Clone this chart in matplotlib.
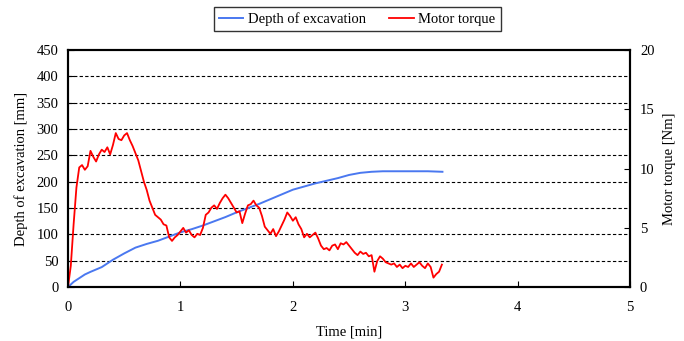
import numpy as np
import matplotlib
matplotlib.use('Agg')
import matplotlib.pyplot as plt

plt.rcParams['font.family'] = ['Liberation Serif', 'DejaVu Serif']

# depth of excavation [mm]
depth_t = [0, 0.05, 0.1, 0.15, 0.2, 0.3, 0.4, 0.5, 0.6, 0.7, 0.8, 0.9, 1.0, 1.1, 1.2, 1.3,
           1.4, 1.5, 1.6, 1.7, 1.8, 1.9, 2.0, 2.1, 2.2, 2.3, 2.4, 2.5, 2.6, 2.7, 2.8, 3.0,
           3.2, 3.33]
depth_mm = [0, 10, 17, 24, 29, 38, 52, 64, 75, 82, 88, 96, 104, 110, 117, 125,
            133, 142, 150, 158, 167, 176, 185, 191, 197, 202, 207, 213, 217, 219, 220, 220,
            220, 219]

# motor torque [Nm], sampled every 0.025 min
torque_nm = [0.0, 1.8, 5.3, 8.4, 10.1, 10.3, 9.9, 10.2, 11.5, 11.0, 10.6, 11.2, 11.6, 11.4,
             11.8, 11.2, 12.0, 13.0, 12.5, 12.4, 12.8, 13.0, 12.4, 11.9, 11.3, 10.7, 9.8, 8.9,
             8.2, 7.3, 6.7, 6.1, 5.9, 5.7, 5.3, 5.2, 4.2, 3.9, 4.2, 4.4, 4.7, 5.0, 4.6, 4.8,
             4.4, 4.2, 4.5, 4.4, 5.0, 6.1, 6.3, 6.7, 6.9, 6.6, 7.1, 7.5, 7.8, 7.5, 7.1, 6.7,
             6.3, 6.4, 5.4, 6.2, 6.9, 7.0, 7.3, 6.9, 6.7, 6.0, 5.1, 4.8, 4.5, 4.9, 4.3, 4.7,
             5.2, 5.7, 6.3, 6.0, 5.6, 5.9, 5.3, 4.9, 4.2, 4.5, 4.2, 4.4, 4.6, 4.1, 3.5, 3.2,
             3.3, 3.1, 3.5, 3.6, 3.2, 3.7, 3.6, 3.8, 3.5, 3.2, 2.9, 2.7, 3.0, 2.8, 2.9, 2.6,
             2.7, 1.3, 2.2, 2.6, 2.4, 2.1, 2.0, 1.9, 2.0, 1.7, 1.9, 1.6, 1.8, 1.7, 2.0, 1.7,
             1.9, 2.1, 1.8, 1.6, 2.0, 1.7, 0.8, 1.1, 1.3, 1.9]
torque_t = np.linspace(0, 0.025 * (len(torque_nm) - 1), len(torque_nm))

fig = plt.figure(figsize=(6.84, 3.41), dpi=100)
ax = fig.add_axes([0.0994, 0.158, 0.822, 0.695])
ax2 = ax.twinx()

l1, = ax.plot(depth_t, depth_mm, color='#4a78f0', lw=1.4, label='Depth of excavation')
l2, = ax2.plot(torque_t, torque_nm, color='red', lw=1.3, label='Motor torque')

ax.set_xlim(0, 5)
ax.set_ylim(0, 450)
ax2.set_ylim(0, 20)
ax.set_xticks([0, 1, 2, 3, 4, 5])
ax.set_yticks(np.arange(0, 451, 50))
ax2.set_yticks([0, 5, 10, 15, 20])
for y in range(50, 450, 50):
    ax.axhline(y, color='black', lw=0.8, ls=(0, (3, 2)), zorder=0)

for a in (ax, ax2):
    for s in a.spines.values():
        s.set_linewidth(1.5)
    a.tick_params(direction='in', labelsize=10.5, length=4, pad=7)
ax.tick_params(axis='x', pad=10)

ax.set_xlabel('Time [min]', fontsize=10.5, labelpad=8)
ax.set_ylabel('Depth of excavation [mm]', fontsize=10.5, labelpad=6)
ax2.set_ylabel('Motor torque [Nm]', fontsize=10.5, labelpad=6)

leg = fig.legend(handles=[l1, l2], loc='center', bbox_to_anchor=(0.522, 0.945), ncol=2,
                 fontsize=10.5, frameon=True, fancybox=False, edgecolor='black',
                 handlelength=1.7, handletextpad=0.3, columnspacing=1.6, borderpad=0.35,
                 borderaxespad=0)
leg.get_frame().set_linewidth(1.0)

fig.savefig('out.png', dpi=100)
